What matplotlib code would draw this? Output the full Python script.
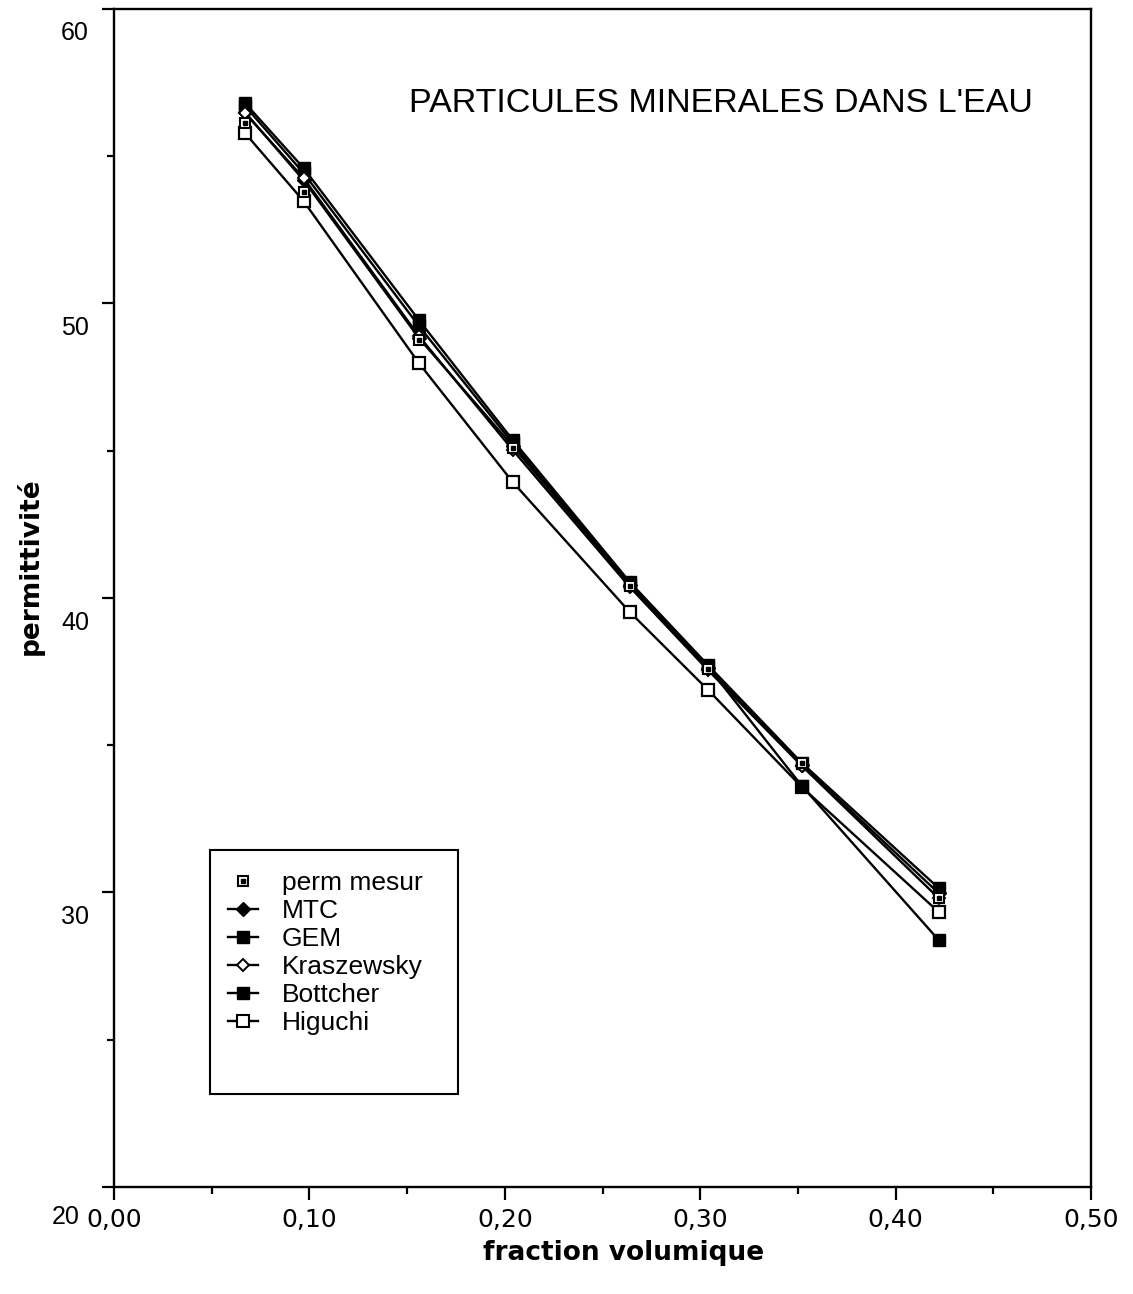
"""Permittivity vs volume fraction for mineral particles in water."""

import matplotlib
matplotlib.use("Agg")
import matplotlib.pyplot as plt
from matplotlib import font_manager
from matplotlib.lines import Line2D
from matplotlib.patches import Rectangle
from matplotlib.transforms import ScaledTranslation


fraction = [0.067, 0.097, 0.156, 0.204, 0.264, 0.304, 0.352, 0.422]

perm_mesur = [56.13, 53.79, 48.76, 45.09, 40.41, 37.59, 34.40, 29.81]
mtc = [56.50, 54.19, 48.83, 45.16, 40.44, 37.62, 34.33, 29.98]
gem = [56.71, 54.43, 49.24, 45.26, 40.48, 37.66, 33.62, 28.39]
kraszewsky = [56.47, 54.26, 48.90, 45.03, 40.37, 37.55, 34.30, 29.81]
bottcher = [56.81, 54.60, 49.44, 45.37, 40.54, 37.72, 34.40, 30.15]
higuchi = [55.79, 53.48, 47.98, 43.94, 39.52, 36.88, 33.58, 29.34]

x_ticks = [0.0, 0.1, 0.2, 0.3, 0.4, 0.5]
x_tick_labels = ["0,00", "0,10", "0,20", "0,30", "0,40", "0,50"]
y_ticks = [20, 30, 40, 50, 60]
y_tick_labels = ["20", "30", "40", "50", "60"]
legend_labels = ["perm mesur", "MTC", "GEM", "Kraszewsky", "Bottcher", "Higuchi"]

TITLE = "PARTICULES MINERALES DANS L'EAU"
W, H = 1133, 1294


def _title_font():
    names = {f.name for f in font_manager.fontManager.ttflist}
    if "Liberation Sans Narrow" in names:
        return "Liberation Sans Narrow", 29
    return "Liberation Sans", 24.5


def main() -> None:
    fig = plt.figure(figsize=(W / 100, H / 100), dpi=100)
    ax = fig.add_axes([114 / W, 1 - 1187 / H, 977 / W, 1178 / H])

    lw = 1.7
    # series drawn bottom-up so the filled markers sit on top
    ax.plot(fraction, higuchi, color="black", lw=lw, marker="s", ms=9,
            mfc="white", mec="black", mew=1.6)
    ax.plot(fraction, gem, color="black", lw=lw, marker="s", ms=8,
            mfc="black", mec="black")
    ax.plot(fraction, mtc, color="black", lw=lw, marker="D", ms=7,
            mfc="black", mec="black")
    ax.plot(fraction, bottcher, color="black", lw=lw, marker="s", ms=9,
            mfc="black", mec="black")
    ax.plot(fraction, kraszewsky, color="black", lw=lw, marker="D", ms=6,
            mfc="white", mec="black", mew=1.4)
    pm_box, = ax.plot(fraction, perm_mesur, ls="none", marker="s", ms=7,
                      mfc="white", mec="black", mew=1.5)
    pm_dot, = ax.plot(fraction, perm_mesur, ls="none", marker="s", ms=2.2,
                      mfc="black", mec="black")

    ax.set_xlim(0, 0.5)
    ax.set_ylim(20, 60)
    ax.set_xticks(x_ticks)
    ax.set_xticklabels(x_tick_labels)
    ax.set_xticks([0.05, 0.15, 0.25, 0.35, 0.45], minor=True)
    ax.set_yticks(y_ticks)
    ax.set_yticklabels(y_tick_labels)
    ax.set_yticks([25, 35, 45, 55], minor=True)

    for sp in ax.spines.values():
        sp.set_linewidth(1.7)
    ax.tick_params(which="major", direction="out", length=9, width=1.6)
    ax.tick_params(which="minor", direction="out", length=5, width=1.6)
    ax.tick_params(axis="x", pad=6)
    ax.tick_params(axis="y", pad=9)

    for lbl in ax.get_xticklabels():
        lbl.set_fontfamily("DejaVu Sans")
        lbl.set_fontsize(18)
    # y labels sit below their tick in the original; "20" is pushed further left
    for lbl in ax.get_yticklabels():
        lbl.set_fontfamily("Liberation Sans")
        lbl.set_fontsize(18)
        if lbl.get_text() == "20":
            shift = ScaledTranslation(-0.09, -0.27, fig.dpi_scale_trans)
        else:
            shift = ScaledTranslation(0, -0.22, fig.dpi_scale_trans)
        lbl.set_transform(lbl.get_transform() + shift)

    tfam, tsize = _title_font()
    fig.text(409 / W, 1 - 103 / H, TITLE, ha="left", va="center",
             fontsize=tsize, family=tfam)
    fig.text(624 / W, 1 - 1253 / H, "fraction volumique", ha="center",
             va="center", fontsize=19, fontweight="bold", family="DejaVu Sans")
    fig.text(30 / W, 1 - 566 / H, "permittivit\u00e9", ha="center",
             va="center", rotation=90, fontsize=19, fontweight="bold",
             family="DejaVu Sans")

    # legend box drawn separately, it has empty room under the entries
    fig.patches.append(Rectangle((210 / W, 1 - 1094 / H), 248 / W, 244 / H,
                                 transform=fig.transFigure, fill=False,
                                 edgecolor="black", lw=1.5))
    handles = [
        (pm_box, pm_dot),
        Line2D([], [], color="black", lw=lw, marker="D", ms=7, mfc="black"),
        Line2D([], [], color="black", lw=lw, marker="s", ms=8, mfc="black"),
        Line2D([], [], color="black", lw=lw, marker="D", ms=6, mfc="white", mew=1.4),
        Line2D([], [], color="black", lw=lw, marker="s", ms=9, mfc="black"),
        Line2D([], [], color="black", lw=lw, marker="s", ms=8, mfc="white", mew=1.5),
    ]
    ax.legend(handles, legend_labels, loc="upper left",
              bbox_to_anchor=(228 / W, 1 - 871 / H), bbox_transform=fig.transFigure,
              frameon=False, borderpad=0, borderaxespad=0, handlelength=1.14,
              handletextpad=0.9, labelspacing=0.15,
              prop={"family": "Liberation Sans", "size": 19})

    fig.savefig("out.png", dpi=100)
    plt.close(fig)


if __name__ == "__main__":
    main()
